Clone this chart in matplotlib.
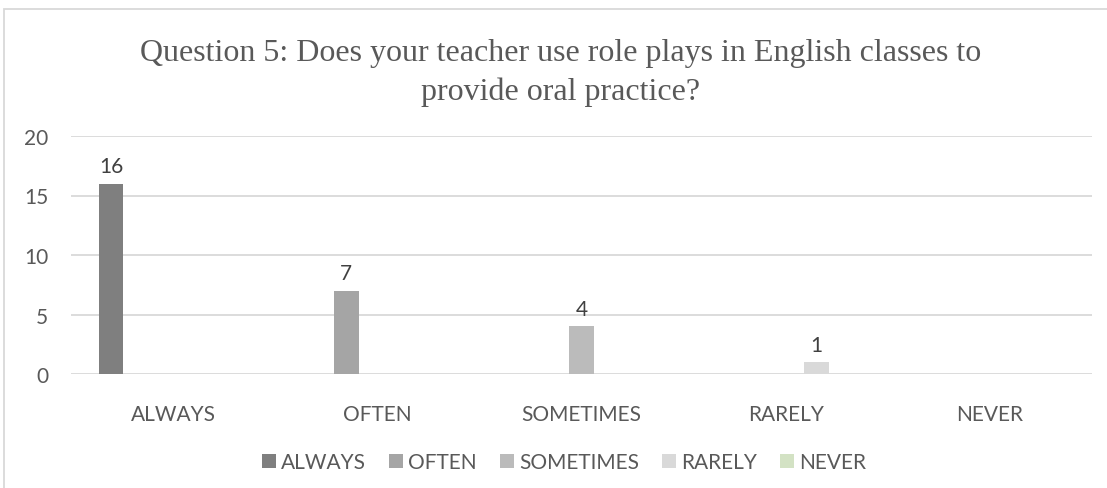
import numpy as np
import matplotlib.pyplot as plt
from matplotlib.patches import Rectangle

# survey answers for question 5
categories = ["ALWAYS", "OFTEN", "SOMETIMES", "RARELY", "NEVER"]
series_names = ["ALWAYS", "OFTEN", "SOMETIMES", "RARELY", "NEVER"]
# one row per series, one column per category
counts = [
    [16, 0, 0, 0, 0],
    [0, 7, 0, 0, 0],
    [0, 0, 4, 0, 0],
    [0, 0, 0, 1, 0],
    [0, 0, 0, 0, 0],
]
colors = ["#7f7f7f", "#a5a5a5", "#bbbbbb", "#d9d9d9", "#d3e2c4"]
yticks = [0, 5, 10, 15, 20]

label_font = ["Lato", "DejaVu Sans"]
text_grey = "#595959"
fs = 15

fig = plt.figure(figsize=(11.07, 4.89), dpi=100)
ax = fig.add_axes([71 / 1107, 1 - 375 / 489, 1021 / 1107, 238 / 489])

x = np.arange(len(categories))
step = 0.152
width = 0.122
bars = []
for j, name in enumerate(series_names):
    pos = x + (j - 2) * step
    b = ax.bar(pos, counts[j], width, color=colors[j], label=name, zorder=3)
    bars.append(b)
    for xi, v in zip(pos, counts[j]):
        if v > 0:
            ax.annotate(str(v), (xi, v), xytext=(0, 12.5), textcoords="offset points",
                        ha="center", va="center", fontsize=fs, color="#404040",
                        family=label_font)

ax.set_xlim(-0.5, len(categories) - 0.5)
ax.set_ylim(0, 20)
ax.set_yticks(yticks)
ax.set_xticks(x)
ax.set_xticklabels(categories)
ax.yaxis.grid(True, color="#d9d9d9", linewidth=1.3, zorder=0)
for s in ax.spines.values():
    s.set_visible(False)
ax.tick_params(axis="both", length=0, labelsize=fs, colors=text_grey)
ax.tick_params(axis="y", pad=16.5)
ax.tick_params(axis="x", pad=21.5)
for lbl in ax.get_xticklabels() + ax.get_yticklabels():
    lbl.set_family(label_font)

fig.text(561 / 1107, 1 - 73 / 489,
         "Question 5: Does your teacher use role plays in English classes to\nprovide oral practice?",
         ha="center", va="center", fontsize=23, color=text_grey,
         family=["Liberation Serif", "DejaVu Serif"], linespacing=1.4)

leg = fig.legend(handles=bars, labels=series_names, loc="center",
                 bbox_to_anchor=(564 / 1107, 1 - 463 / 489), ncol=5, frameon=False,
                 handlelength=0.67, handleheight=0.67, handletextpad=0.25, columnspacing=1.1,
                 prop={"family": label_font, "size": fs})
for t in leg.get_texts():
    t.set_color(text_grey)

# outer chart border
fig.add_artist(Rectangle((4 / 1107, -0.1), 1.2, 1 - 10 / 489 + 0.1,
                         transform=fig.transFigure, fill=False,
                         edgecolor="#d9d9d9", linewidth=1.3))

fig.savefig("out.png", dpi=100)
